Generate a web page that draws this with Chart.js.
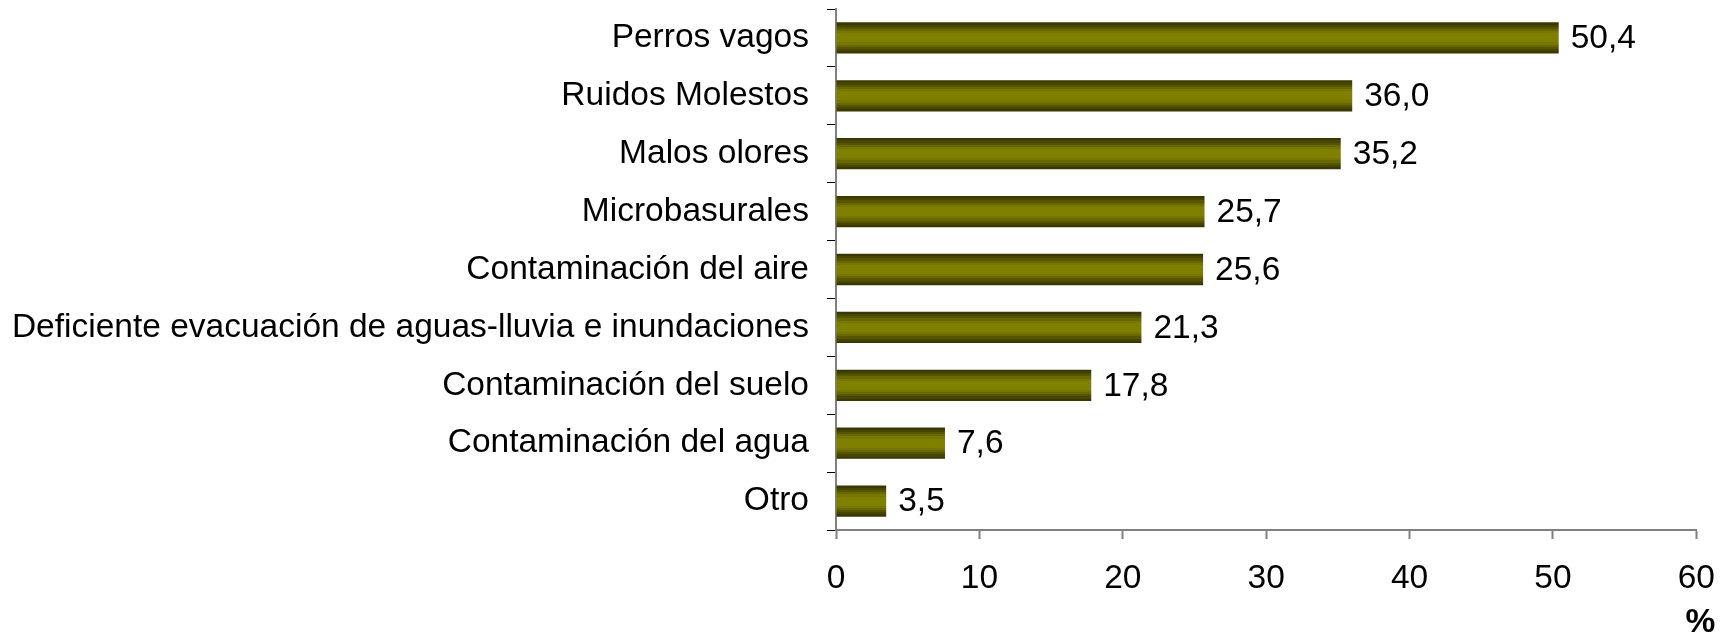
<!DOCTYPE html>
<html>
<head>
<meta charset="utf-8">
<script src="https://cdn.jsdelivr.net/npm/chart.js@4/dist/chart.umd.min.js"></script>
<style>
  html, body { margin: 0; padding: 0; background: #fff; }
  #wrap { width: 1735px; height: 639px; }
</style>
</head>
<body>
<div id="wrap"><canvas id="grafico"></canvas></div>
<script>
const categorias = [
  "Perros vagos",
  "Ruidos Molestos",
  "Malos olores",
  "Microbasurales",
  "Contaminación del aire",
  "Deficiente evacuación de aguas-lluvia e inundaciones",
  "Contaminación del suelo",
  "Contaminación del agua",
  "Otro"
];
const valores = [50.4, 36.0, 35.2, 25.7, 25.6, 21.3, 17.8, 7.6, 3.5];
const ticksX = [0, 10, 20, 30, 40, 50, 60];
const tituloX = "%";

const fuente = "'Liberation Sans', Arial, sans-serif";
const tamLetra = 33.5;

// franjas horizontales de las barras (oscuro - oliva - oscuro)
const franjas = ["#383800", "#464600", "#565600", "#686800", "#767600", "#7f7f00", "#808000", "#808000", "#7f7f00", "#767600", "#686800", "#565600", "#464600", "#383800"];

const pluginBarras = {
  id: "barrasRayadas",
  beforeDatasetsDraw(chart) {
    const meta = chart.getDatasetMeta(0);
    meta.data.forEach(bar => {
      const top = bar.y - bar.height / 2;
      const g = chart.ctx.createLinearGradient(0, top, 0, top + bar.height);
      const n = franjas.length;
      franjas.forEach((c, i) => {
        g.addColorStop(i / n, c);
        g.addColorStop((i + 1) / n - 0.0001, c);
      });
      bar.options.backgroundColor = g;
    });
  },
  afterDatasetsDraw(chart) {
    const ctx = chart.ctx;
    const meta = chart.getDatasetMeta(0);
    ctx.save();
    ctx.font = tamLetra + "px " + fuente;
    ctx.fillStyle = "#000";
    ctx.textBaseline = "middle";
    ctx.textAlign = "left";
    meta.data.forEach((bar, i) => {
      ctx.fillText(valores[i].toFixed(1).replace(".", ","), bar.x + 12, bar.y + 1);
    });
    // titulo del eje x
    ctx.font = "bold " + tamLetra + "px " + fuente;
    ctx.textAlign = "center";
    ctx.fillText(tituloX, chart.chartArea.right + 4, 623);
    ctx.restore();
  }
};

const ctx = document.getElementById("grafico").getContext("2d");
new Chart(ctx, {
  type: "bar",
  data: {
    labels: categorias,
    datasets: [{
      data: valores,
      // funcion para que cada barra tenga sus propias opciones
      backgroundColor: c => "#808000",
      borderWidth: 0,
      barPercentage: 0.54,
      categoryPercentage: 1
    }]
  },
  options: {
    indexAxis: "y",
    responsive: true,
    maintainAspectRatio: false,
    animation: false,
    layout: { padding: { top: 9, right: 32, left: 0, bottom: 0 } },
    plugins: {
      legend: { display: false },
      tooltip: { enabled: false }
    },
    scales: {
      x: {
        min: 0,
        max: 60,
        afterBuildTicks: s => { s.ticks = ticksX.map(v => ({ value: v })); },
        afterFit: s => { s.height = 109; },
        border: { color: "#808080", width: 2 },
        grid: { drawOnChartArea: false, drawTicks: true, tickLength: 9, color: "#808080", tickWidth: 2 },
        ticks: { color: "#000", padding: 20, font: { family: fuente, size: tamLetra } }
      },
      y: {
        afterFit: s => { s.width = 836; s.paddingTop = 0; s.paddingBottom = 0; },
        border: { color: "#808080", width: 2 },
        grid: { drawOnChartArea: false, drawTicks: true, tickLength: 9, color: "#000", offset: true },
        ticks: { color: "#000", padding: 18, font: { family: fuente, size: tamLetra } }
      }
    }
  },
  plugins: [pluginBarras]
});
</script>
</body>
</html>
